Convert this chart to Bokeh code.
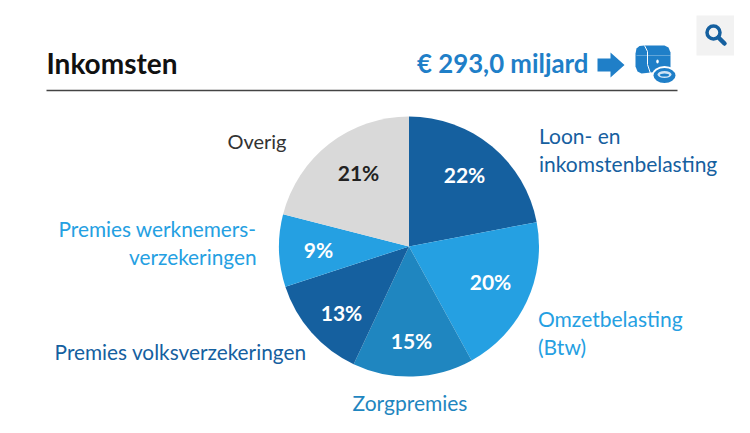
import math
from bokeh.plotting import figure
from bokeh.models import Range1d, ColumnDataSource
from bokeh.core.properties import value
from bokeh.embed import file_html
from bokeh.resources import INLINE

# Data
categories = ["Loon- en inkomstenbelasting", "Omzetbelasting (Btw)", "Zorgpremies",
              "Premies volksverzekeringen", "Premies werknemersverzekeringen", "Overig"]
shares = [22, 20, 15, 13, 9, 21]
share_labels = ["22%", "20%", "15%", "13%", "9%", "21%"]
title_text = "Inkomsten"
total_text = "€ 293,0 miljard"

# Style / layout
colors = ["#15609f", "#25a0e2", "#1f86c0", "#15609f", "#25a0e2", "#d9d9d9"]
share_colors = ["white", "white", "white", "white", "white", "#222222"]
share_pos = [(464, 174), (490, 281), (411, 340), (341, 312), (318, 249), (358, 172)]
FONT = value("Lato")
CX, CY, R = 408.5, 246, 130


def Y(py):
    return 433 - py


p = figure(width=734, height=417, output_backend="svg", toolbar_location=None,
           x_range=Range1d(0, 734), y_range=Range1d(16, 433), min_border=0)
p.grid.visible = False
p.outline_line_color = None
p.background_fill_color = "white"
p.xaxis.visible = False
p.yaxis.visible = False

# Pie
total = sum(shares)
starts, ends, run = [], [], 0
for s in shares:
    starts.append(math.pi / 2 - 2 * math.pi * run / total)
    run += s
    ends.append(math.pi / 2 - 2 * math.pi * run / total)
src = ColumnDataSource(dict(start=starts, end=ends, color=colors, cat=categories))
p.wedge(x=CX, y=Y(CY), radius=R, start_angle="start", end_angle="end", direction="clock",
        fill_color="color", line_color=None, source=src)

# Percent labels
p.text(x=[q[0] for q in share_pos], y=[Y(q[1]) for q in share_pos], text=share_labels,
       text_color=share_colors, text_font=FONT, text_font_style="bold", text_font_size="21px",
       text_align="center", text_baseline="middle")


def label(x, py, txt, color, align="left", size="21px", style="normal"):
    p.text(x=[x], y=[Y(py)], text=[txt], text_color=color, text_font=FONT, text_font_size=size,
           text_font_style=style, text_align=align, text_baseline="middle")


DARK, LIGHT, MID = "#15609f", "#25a0e2", "#1f86c0"
label(538.5, 135, "Loon- en", DARK)
label(538.5, 163, "inkomstenbelasting", DARK)
label(537.5, 318, "Omzetbelasting", LIGHT)
label(537.5, 346, "(Btw)", LIGHT)
label(409.5, 402, "Zorgpremies", MID, "center")
label(306, 351, "Premies volksverzekeringen", DARK, "right", size="20.8px")
label(256, 228, "Premies werknemers-", LIGHT, "right", size="20.8px")
label(256, 256, "verzekeringen", LIGHT, "right", size="20.8px")
label(286, 140, "Overig", "#333333", "right", size="20px")

# Header
label(46, 62, title_text, "#111111", size="28px", style="bold")
label(588, 62, total_text, "#1f7fc8", "right", size="25.8px", style="bold")
p.line(x=[46, 677], y=[Y(90), Y(90)], line_color="#444444", line_width=1.5)

# Arrow
ax = [597, 610, 610, 624, 610, 610, 597]
ay = [58, 58, 52, 64.5, 77, 71, 71]
p.patch(x=ax, y=[Y(v) for v in ay], fill_color="#1f7fc8", line_color=None)

# Chest icon
cx = [635, 636, 639, 644, 664, 668, 670, 670, 669, 641, 637, 635]
cy = [53, 48, 45.5, 45, 45, 47, 52, 66, 70, 73, 71, 66]
p.patch(x=cx, y=[Y(v) for v in cy], fill_color="#1f7fc8", line_color=None)
p.line(x=[644, 647, 647, 650], y=[Y(45), Y(51), Y(64), Y(73)], line_color="white", line_width=1)
p.line(x=[636, 670], y=[Y(55), Y(55)], line_color="white", line_width=0.6, line_alpha=0.5)
p.ellipse(x=[657], y=[Y(61)], width=2.5, height=4, fill_color="white", line_color=None)
p.ellipse(x=[664], y=[Y(75)], width=25, height=19, fill_color="white", line_color=None)
p.ellipse(x=[664], y=[Y(75)], width=22, height=15, fill_color="#1f7fc8", line_color=None)
p.ellipse(x=[664], y=[Y(74)], width=14, height=7, fill_color="#cfe3f5", line_color=None)
p.ellipse(x=[664], y=[Y(74.5)], width=9, height=3, fill_color="#1f7fc8", line_color=None)

# Zoom button
p.quad(left=[696], right=[736], top=[Y(15)], bottom=[Y(55)], fill_color="#f2f2f2", line_color=None)
p.circle(x=[713], y=[Y(32)], radius=6.5, fill_color=None, line_color="#15609f", line_width=3.5)
p.line(x=[718, 724], y=[Y(37), Y(43)], line_color="#15609f", line_width=4.5, line_cap="round")

open("out.html", "w").write(file_html(p, INLINE))
